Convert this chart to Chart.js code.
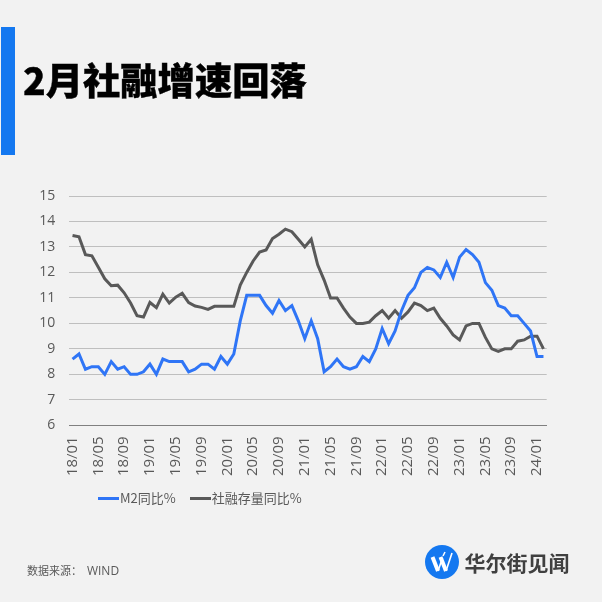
<!DOCTYPE html>
<html lang="zh">
<head>
<meta charset="utf-8">
<title>2月社融增速回落</title>
<script src="https://cdn.jsdelivr.net/npm/chart.js@4"></script>
<style>
  html, body { margin: 0; padding: 0; background: #fff; }
  #page { position: relative; width: 602px; height: 602px; background: #f2f2f2; overflow: hidden; font-family: "Noto Sans CJK SC", "Noto Sans", sans-serif; }
  #grafico { position: absolute; left: 0; top: 0; }
  #barra { position: absolute; left: 1px; top: 27px; width: 14px; height: 128px; background: #1478f0; }
  #titulo { position: absolute; left: 23px; top: 54px; font-size: 37.3px; line-height: 50px; font-weight: 900; -webkit-text-stroke: 0.4px #000; color: #000; white-space: nowrap; }
  #leyenda { position: absolute; left: 98px; top: 488px; height: 20px; display: flex; align-items: center; font-size: 13px; line-height: 20px; color: #595959; white-space: nowrap; }
  #leyenda .item { display: flex; align-items: center; margin-right: 14px; }
  #leyenda .linea { display: inline-block; width: 21px; height: 3px; margin-right: 1px; }
  #fuente { position: absolute; left: 27px; top: 561px; font-size: 11px; line-height: 18px; color: #595959; white-space: pre; }
  #fuente span { font-family: "Open Sans", sans-serif; font-size: 12px; }
  #logo { position: absolute; left: 425px; top: 545px; width: 34px; height: 34px; }
  #marca { position: absolute; left: 464.5px; top: 547px; font-size: 21px; line-height: 30px; font-weight: 700; color: #404040; white-space: nowrap; }
</style>
</head>
<body>
<div id="page">
  <canvas id="grafico" width="602" height="602"></canvas>
  <div id="barra"></div>
  <div id="titulo">2月社融增速回落</div>
  <div id="leyenda"></div>
  <div id="fuente">数据来源：  <span>WIND</span></div>
  <svg id="logo" viewBox="0 0 34 34">
    <circle cx="17" cy="17" r="17" fill="#1478f0"/>
    <g fill="none" stroke="#fff" stroke-linecap="butt">
      <path d="M7.5 12 L13 26" stroke-width="4"/>
      <path d="M13 26 L17.5 13" stroke-width="1.6"/>
      <path d="M15.5 12 L21 26" stroke-width="4"/>
      <path d="M21 26 L27 8" stroke-width="1.6"/>
      <path d="M18 11 L20 7" stroke-width="1.6"/>
    </g>
  </svg>
  <div id="marca">华尔街见闻</div>
</div>
<script>
// --- datos ---
const meses = [
  '18/01','18/02','18/03','18/04','18/05','18/06','18/07','18/08','18/09','18/10','18/11','18/12',
  '19/01','19/02','19/03','19/04','19/05','19/06','19/07','19/08','19/09','19/10','19/11','19/12',
  '20/01','20/02','20/03','20/04','20/05','20/06','20/07','20/08','20/09','20/10','20/11','20/12',
  '21/01','21/02','21/03','21/04','21/05','21/06','21/07','21/08','21/09','21/10','21/11','21/12',
  '22/01','22/02','22/03','22/04','22/05','22/06','22/07','22/08','22/09','22/10','22/11','22/12',
  '23/01','23/02','23/03','23/04','23/05','23/06','23/07','23/08','23/09','23/10','23/11','23/12',
  '24/01','24/02'
];
const m2 = [
  8.6, 8.8, 8.2, 8.3, 8.3, 8.0, 8.5, 8.2, 8.3, 8.0, 8.0, 8.1,
  8.4, 8.0, 8.6, 8.5, 8.5, 8.5, 8.1, 8.2, 8.4, 8.4, 8.2, 8.7,
  8.4, 8.8, 10.1, 11.1, 11.1, 11.1, 10.7, 10.4, 10.9, 10.5, 10.7, 10.1,
  9.4, 10.1, 9.4, 8.1, 8.3, 8.6, 8.3, 8.2, 8.3, 8.7, 8.5, 9.0,
  9.8, 9.2, 9.7, 10.5, 11.1, 11.4, 12.0, 12.2, 12.1, 11.8, 12.4, 11.8,
  12.6, 12.9, 12.7, 12.4, 11.6, 11.3, 10.7, 10.6, 10.3, 10.3, 10.0, 9.7,
  8.7, 8.7
];
const sheRong = [
  13.45, 13.4, 12.7, 12.65, 12.2, 11.75, 11.48, 11.5, 11.2, 10.8, 10.3, 10.25,
  10.82, 10.62, 11.15, 10.8, 11.03, 11.18, 10.82, 10.68, 10.63, 10.55, 10.67, 10.67,
  10.67, 10.67, 11.5, 12.0, 12.45, 12.8, 12.88, 13.33, 13.5, 13.7, 13.6, 13.3,
  13.0, 13.3, 12.3, 11.7, 11.0, 11.0, 10.6, 10.25, 10.0, 10.0, 10.05, 10.3,
  10.5, 10.2, 10.5, 10.2, 10.45, 10.8, 10.7, 10.5, 10.6, 10.2, 9.9, 9.55,
  9.35, 9.9, 10.0, 10.0, 9.45, 9.0, 8.9, 9.0, 9.0, 9.3, 9.35, 9.5,
  9.5, 9.0
];
const nombreM2 = 'M2同比%';
const nombreSheRong = '社融存量同比%';
const colorM2 = '#2f75f6';
const colorSheRong = '#595959';

const fuenteEjes = '"Open Sans", "Noto Sans", sans-serif';

// --- grafico ---
const chart = new Chart(document.getElementById('grafico').getContext('2d'), {
  type: 'line',
  data: {
    labels: meses,
    datasets: [
      { label: nombreM2, data: m2, borderColor: colorM2, backgroundColor: colorM2 },
      { label: nombreSheRong, data: sheRong, borderColor: colorSheRong, backgroundColor: colorSheRong }
    ]
  },
  options: {
    responsive: false,
    animation: false,
    layout: { padding: { top: 196, right: 55.3, bottom: 0, left: 0 } },
    elements: {
      line: { borderWidth: 3, tension: 0, borderCapStyle: 'butt', borderJoinStyle: 'miter' },
      point: { radius: 0 }
    },
    plugins: { legend: { display: false }, tooltip: { enabled: false } },
    scales: {
      x: {
        offset: true,
        afterFit: (axis) => { axis.height = 176.7; },
        grid: { display: false },
        border: { color: '#808080', width: 1 },
        ticks: {
          autoSkip: false,
          minRotation: 90,
          maxRotation: 90,
          padding: 3,
          color: '#595959',
          font: { family: fuenteEjes, size: 15 },
          callback: (valor, i) => (i % 4 === 0 ? meses[i] : '')
        }
      },
      y: {
        min: 6,
        max: 15,
        afterFit: (axis) => { axis.width = 69.3; },
        grid: { color: '#bfbfbf', lineWidth: 1, drawTicks: false },
        border: { display: false },
        ticks: {
          stepSize: 1,
          padding: 14,
          color: '#595959',
          font: { family: fuenteEjes, size: 14 }
        }
      }
    }
  }
});

// --- leyenda ---
const leyenda = document.getElementById('leyenda');
chart.data.datasets.forEach((ds) => {
  const item = document.createElement('span');
  item.className = 'item';
  item.innerHTML = `<span class="linea" style="background:${ds.borderColor}"></span>${ds.label}`;
  leyenda.appendChild(item);
});
</script>
</body>
</html>
